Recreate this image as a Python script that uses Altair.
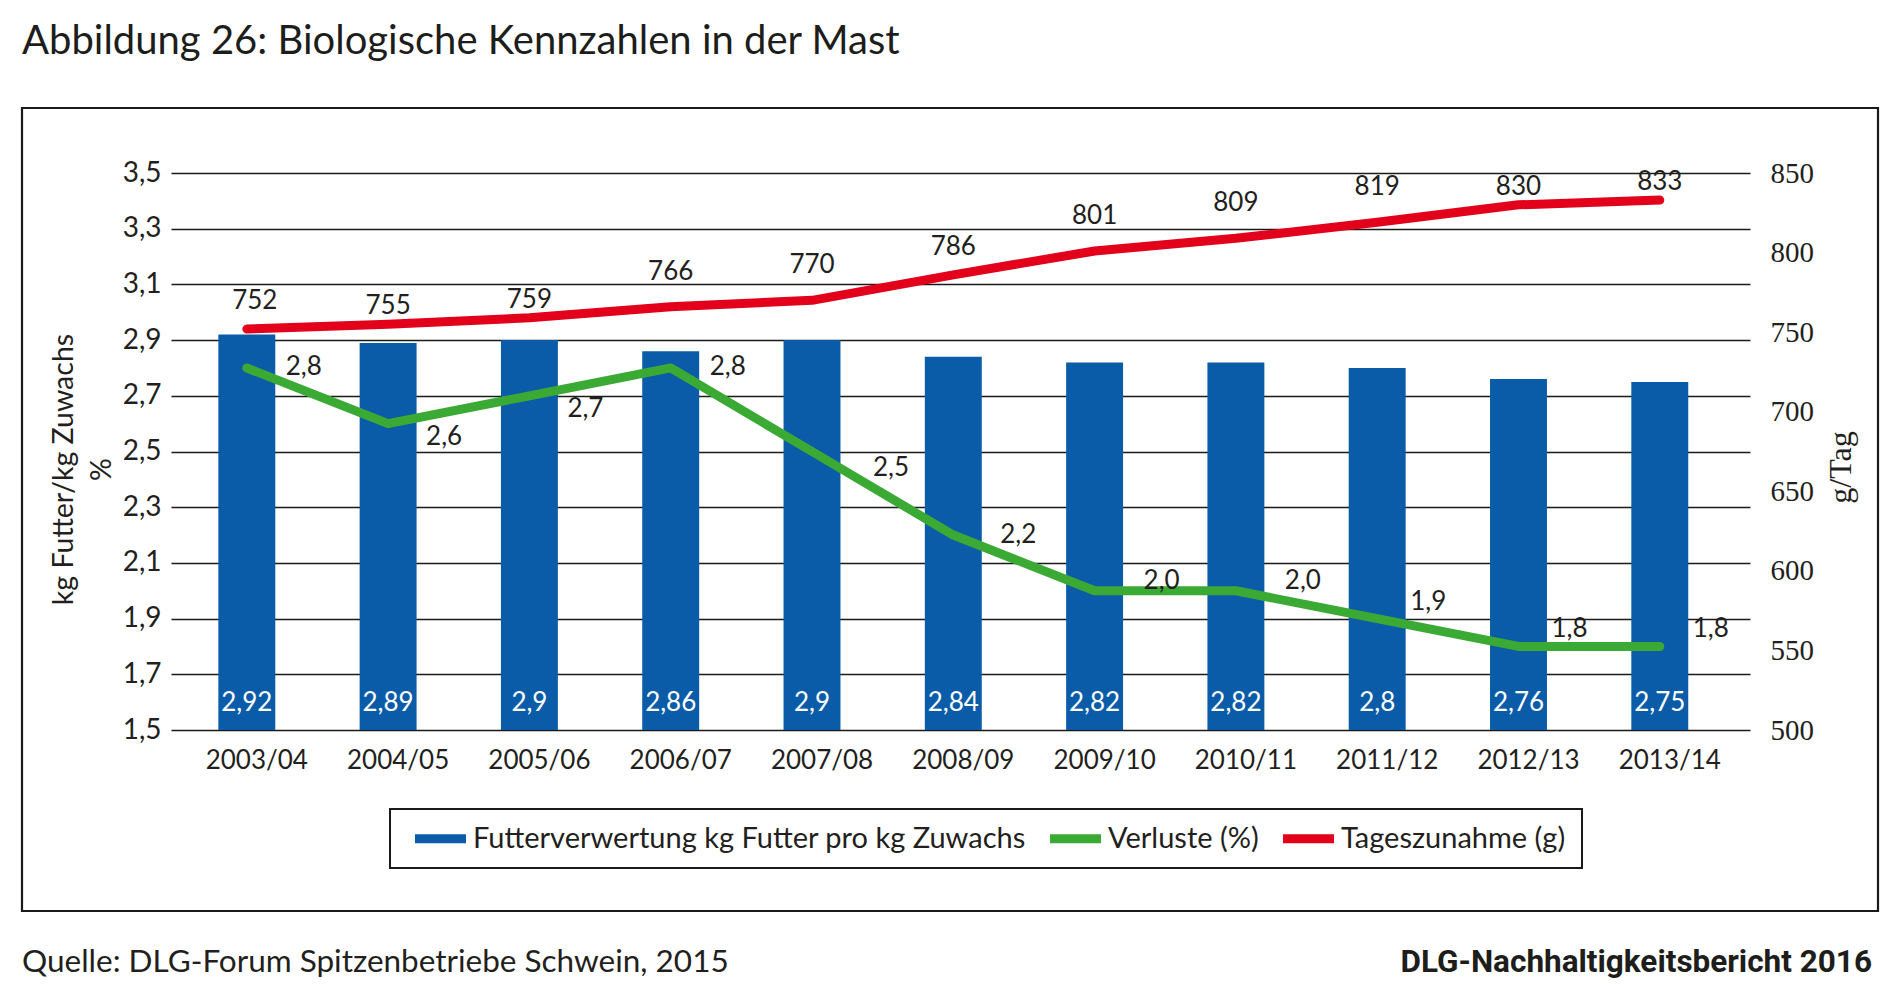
import altair as alt
import pandas as pd

# ---------------- data ----------------
years = ["2003/04", "2004/05", "2005/06", "2006/07", "2007/08", "2008/09",
         "2009/10", "2010/11", "2011/12", "2012/13", "2013/14"]
futter = [2.92, 2.89, 2.9, 2.86, 2.9, 2.84, 2.82, 2.82, 2.8, 2.76, 2.75]
verluste = [2.8, 2.6, 2.7, 2.8, 2.5, 2.2, 2.0, 2.0, 1.9, 1.8, 1.8]
tageszunahme = [752, 755, 759, 766, 770, 786, 801, 809, 819, 830, 833]
left_ticks = [1.5, 1.7, 1.9, 2.1, 2.3, 2.5, 2.7, 2.9, 3.1, 3.3, 3.5]
right_ticks = [500, 550, 600, 650, 700, 750, 800, 850]
series = ["Futterverwertung kg Futter pro kg Zuwachs", "Verluste (%)", "Tageszunahme (g)"]
colors = ["#0b5ca8", "#3aaa35", "#e2001a"]

title_text = "Abbildung 26: Biologische Kennzahlen in der Mast"
source_text = "Quelle: DLG-Forum Spitzenbetriebe Schwein, 2015"
report_text = "DLG-Nachhaltigkeitsbericht 2016"

df = pd.DataFrame({"jahr": years, "futter": futter, "verluste": verluste,
                   "tages": tageszunahme})

# ---------------- styling ----------------
W, H = 1579, 557
FONT = "Lato"
TXT = "#231f20"
FS = 26

x_enc = alt.X("jahr:N", sort=years,
              scale=alt.Scale(paddingInner=0.597, paddingOuter=0.386, align=0.434),
              axis=alt.Axis(title=None, domain=False, ticks=False, labelAngle=0,
                            labelPadding=17, labelOffset=10, labelFont=FONT,
                            labelFontSize=FS, labelColor=TXT))

left_scale = alt.Scale(domain=[1.5, 3.5], zero=False, nice=False)
right_scale = alt.Scale(domain=[500, 850], zero=False, nice=False)

left_axis = alt.Axis(orient="left", values=left_ticks,
                     labelExpr="replace(format(datum.value, '.1f'), '.', ',')",
                     grid=True, gridColor="#1a1a1a", gridWidth=1.7,
                     domain=False, ticks=False, labelPadding=10,
                     labelFont=FONT, labelFontSize=28, labelColor=TXT,
                     title=["kg Futter/kg Zuwachs", "%"], titleFont=FONT,
                     titleFontSize=28.5, titleFontWeight="normal", titleColor=TXT,
                     titleAngle=270, titleX=-108, titleY=296, titleLineHeight=38,
                     titleAlign="center", titleBaseline="middle")

right_axis = alt.Axis(orient="right", values=right_ticks, grid=False,
                      domain=False, ticks=False, labelPadding=20,
                      labelFont="Liberation Serif", labelFontSize=29, labelColor=TXT,
                      title="g/Tag", titleFont="Liberation Serif", titleFontSize=32,
                      titleFontWeight="normal", titleColor=TXT, titleAngle=270,
                      titleX=90, titleY=294, titleAlign="center", titleBaseline="middle")

base = alt.Chart(df)

bars = base.mark_bar().transform_calculate(
    serie=f"'{series[0]}'"
).encode(
    x=x_enc,
    y=alt.Y("futter:Q", scale=left_scale, axis=left_axis),
    y2=alt.datum(1.5),
    color=alt.Color("serie:N", scale=alt.Scale(domain=series, range=colors),
                    legend=alt.Legend(orient="none", legendX=244, legendY=640,
                                      direction="horizontal", title=None,
                                      symbolType="M-1,-0.18L1,-0.18L1,0.18L-1,0.18Z",
                                      symbolSize=2601, symbolStrokeWidth=0,
                                      symbolOpacity=1, labelFont=FONT,
                                      labelFontSize=29, labelColor=TXT,
                                      labelOffset=7, columnPadding=24, padding=0,
                                      labelLimit=1000)),
)

bar_labels = base.mark_text(color="white", font=FONT, fontSize=FS,
                            baseline="middle", dy=-27).transform_calculate(
    lab="replace(toString(datum.futter), '.', ',')"
).encode(x=x_enc, y=alt.value(H), text="lab:N")

green_line = base.mark_line(color=colors[1], strokeWidth=9, strokeCap="round",
                            strokeJoin="round").encode(
    x=x_enc, y=alt.Y("verluste:Q", scale=left_scale, axis=left_axis))


def green_labels(subset, dx, dy):
    return base.mark_text(font=FONT, fontSize=FS, color=TXT, baseline="middle",
                          align="center", dx=dx, dy=dy).transform_filter(
        alt.FieldOneOfPredicate(field="jahr", oneOf=subset)
    ).transform_calculate(
        lab="replace(format(datum.verluste, '.1f'), '.', ',')"
    ).encode(x=x_enc, y=alt.Y("verluste:Q", scale=left_scale, axis=left_axis),
             text="lab:N")


g_labels = [
    green_labels(["2003/04", "2006/07"], 57, -1),
    green_labels(["2004/05", "2005/06"], 56, 13),
    green_labels(["2007/08"], 79, 16),
    green_labels(["2008/09"], 65, 0),
    green_labels(["2009/10", "2010/11"], 67, -10),
    green_labels(["2011/12", "2012/13", "2013/14"], 51, -17),
]

left = alt.layer(bars, bar_labels, green_line, *g_labels)

red_line = base.mark_line(color=colors[2], strokeWidth=9, strokeCap="round",
                          strokeJoin="round").encode(
    x=x_enc, y=alt.Y("tages:Q", scale=right_scale, axis=right_axis))


def red_labels(subset, dx, dy):
    return base.mark_text(font=FONT, fontSize=FS, color=TXT, baseline="middle",
                          align="center", dx=dx, dy=dy).transform_filter(
        alt.FieldOneOfPredicate(field="jahr", oneOf=subset)
    ).encode(x=x_enc, y=alt.Y("tages:Q", scale=right_scale, axis=right_axis),
             text="tages:Q")


r_labels = [
    red_labels(["2004/05", "2005/06", "2012/13", "2013/14"], 0, -18),
    red_labels(["2006/07", "2007/08", "2009/10", "2010/11", "2011/12"], 0, -35),
    red_labels(["2003/04"], 8, -28),
    red_labels(["2008/09"], 0, -28),
]

right = alt.layer(red_line, *r_labels)

# ---------------- decorations ----------------
deco = alt.Chart(pd.DataFrame({"k": [0]}))
frame = deco.mark_rect(fillOpacity=0, stroke="#1a1a1a", strokeWidth=2.2).encode(
    x=alt.value(-149), x2=alt.value(1707), y=alt.value(-65), y2=alt.value(738))
legend_box = deco.mark_rect(fillOpacity=0, stroke="#1a1a1a", strokeWidth=2).encode(
    x=alt.value(219), x2=alt.value(1411), y=alt.value(636), y2=alt.value(695))

title = deco.mark_text(text=title_text, font=FONT, fontSize=40, color="#1d1d1b",
                       align="left", baseline="middle").encode(
    x=alt.value(-149), y=alt.value(-131))
source = deco.mark_text(text=source_text, font=FONT, fontSize=31.5, color=TXT,
                        align="left", baseline="middle").encode(
    x=alt.value(-149), y=alt.value(790))
report = deco.mark_text(text=report_text, font="Roboto", fontWeight="bold",
                        fontSize=31.5, color="#1d1d1b", align="right",
                        baseline="middle").encode(
    x=alt.value(1701), y=alt.value(790))

chart = alt.layer(
    left, right, frame, legend_box, title, source, report
).resolve_scale(y="independent").properties(
    width=W, height=H,
    autosize=alt.AutoSizeParams(type="none"),
    padding={"left": 163, "top": 165, "right": 135, "bottom": 260},
    background="white",
).configure_view(stroke=None)

chart.save("out.html", embed_options={"renderer": "svg", "actions": False})
